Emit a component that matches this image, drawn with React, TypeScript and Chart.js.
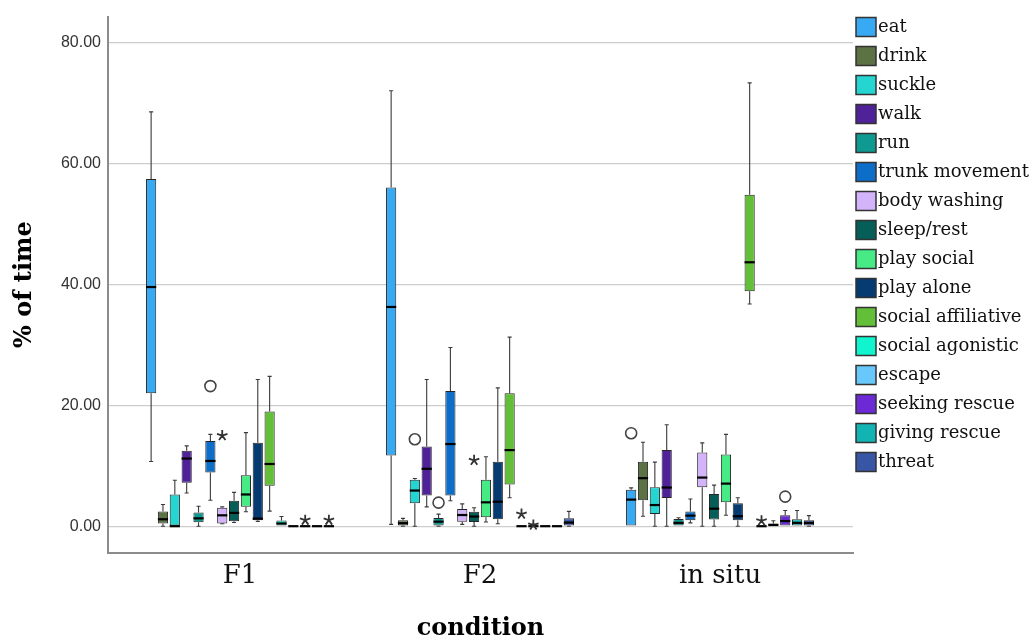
import React, { useEffect, useRef } from "react";
import { Chart, registerables } from "chart.js";

Chart.register(...registerables);

const conditions = ["F1", "F2", "in situ"];
const behaviours = [
  "eat", "drink", "suckle", "walk", "run", "trunk movement", "body washing", "sleep/rest",
  "play social", "play alone", "social affiliative", "social agonistic", "escape",
  "seeking rescue", "giving rescue", "threat",
];
const colours = [
  "#38A9F3", "#5C7245", "#25D5D2", "#4F229A", "#0E9A90", "#0C6EC8", "#D3B4FA", "#065E58",
  "#46EB86", "#053B71", "#63BF38", "#10F5CE", "#69C8FB", "#6B2AD6", "#12B3B3", "#3955A6",
];
const yTicks = [0, 20, 40, 60, 80];

// F1 (order follows behaviours)
const f1Min = [10.7, 0, 0, 5.5, 0, 4.3, 0.4, 0.6, 2.4, 0.8, 2.5, 0, 0, 0, 0, 0];
const f1Q1 = [22.0, 0.45, 0, 7.2, 0.65, 8.9, 0.44, 0.8, 3.2, 1.0, 6.7, 0, 0, 0, 0, 0];
const f1Median = [39.6, 1.15, 0, 11.2, 1.3, 10.8, 1.8, 2.2, 5.25, 1.25, 10.3, 0.45, 0, 0, 0, 0];
const f1Q3 = [57.5, 2.45, 5.25, 12.5, 2.25, 14.1, 3.05, 4.2, 8.45, 13.8, 19.0, 0.95, 0, 0, 0, 0];
const f1Max = [68.6, 3.6, 7.6, 13.3, 3.3, 15.2, 3.2, 5.6, 15.5, 24.3, 24.8, 1.6, 0, 0, 0, 0];

// F2
const f2Min = [0.3, 0, 0, 3.2, 0, 4.2, 0.3, 0, 0.7, 0.4, 4.7, 0, 0, 0, 0, 0];
const f2Q1 = [11.7, 0.1, 3.8, 5.1, 0.1, 5.1, 0.75, 0.7, 1.5, 1.15, 6.9, 0, 0, 0, 0, 0.1];
const f2Median = [36.3, 0.5, 5.9, 9.5, 0.75, 13.6, 1.85, 1.6, 3.95, 4.05, 12.6, 0, 0, 0, 0, 0.6];
const f2Q3 = [56.1, 1.0, 7.7, 13.2, 1.35, 22.4, 2.85, 2.4, 7.7, 10.65, 22.0, 0, 0, 0, 0, 1.3];
const f2Max = [72.1, 1.3, 7.9, 24.3, 2.0, 29.6, 3.7, 3.05, 11.5, 22.9, 31.3, 0, 0, 0, 0, 2.45];

// in situ
const isMin = [0, 1.65, 0, 0, 0, 0.55, 0, 0, 1.8, 0, 36.8, 0, 0, 0, 0, 0];
const isQ1 = [0, 4.3, 2.0, 4.65, 0, 1.0, 6.45, 1.1, 3.95, 1.0, 38.9, 0, 0, 0, 0, 0.1];
const isMedian = [4.4, 7.95, 3.5, 6.4, 0.55, 1.75, 8.05, 2.9, 7.05, 1.65, 43.7, 0, 0.2, 0.85, 0.55, 0.55];
const isQ3 = [6.05, 10.65, 6.45, 12.6, 1.2, 2.45, 12.2, 5.35, 11.85, 3.8, 54.9, 0, 0.45, 1.8, 1.15, 1.0];
const isMax = [6.35, 13.9, 10.6, 16.8, 1.4, 4.5, 13.8, 6.8, 15.2, 4.7, 73.4, 0, 0.9, 2.6, 2.6, 1.75];

// outliers: [condition index, behaviour index, value]
const circleOutliers = [
  [0, 5, 23.2], [1, 2, 14.4], [1, 4, 3.9], [2, 0, 15.4], [2, 13, 4.9],
];
const starOutliers = [
  [0, 6, 15.0], [0, 13, 1.0], [0, 15, 1.0], [1, 7, 10.9], [1, 11, 2.0], [1, 12, 0.2], [2, 11, 0.9],
];

const stats = [
  { min: f1Min, q1: f1Q1, med: f1Median, q3: f1Q3, max: f1Max },
  { min: f2Min, q1: f2Q1, med: f2Median, q3: f2Q3, max: f2Max },
  { min: isMin, q1: isQ1, med: isMedian, q3: isQ3, max: isMax },
];

const boxPlugin = {
  id: "boxWhiskers",
  beforeDatasetsDraw(chart: any) {
    const ctx = chart.ctx;
    const ys = chart.scales.y;
    ctx.save();
    ctx.strokeStyle = "#3a3a3a";
    ctx.lineWidth = 1.1;
    chart.data.datasets.forEach((_ds: any, b: number) => {
      const meta = chart.getDatasetMeta(b);
      meta.data.forEach((el: any, c: number) => {
        const s = stats[c];
        const { x, width } = el.getProps(["x", "width"], true);
        const cap = Math.max(2, width * 0.2);
        const draw = (from: number, to: number) => {
          const p1 = ys.getPixelForValue(from);
          const p2 = ys.getPixelForValue(to);
          ctx.beginPath();
          ctx.moveTo(x, p1);
          ctx.lineTo(x, p2);
          ctx.moveTo(x - cap, p2);
          ctx.lineTo(x + cap, p2);
          ctx.stroke();
        };
        if (s.max[b] > s.q3[b]) draw(s.q3[b], s.max[b]);
        if (s.min[b] < s.q1[b]) draw(s.q1[b], s.min[b]);
      });
    });
    ctx.restore();
  },
  afterDatasetsDraw(chart: any) {
    const ctx = chart.ctx;
    const ys = chart.scales.y;
    ctx.save();
    // medians
    ctx.strokeStyle = "#000";
    ctx.lineWidth = 2.2;
    chart.data.datasets.forEach((_ds: any, b: number) => {
      const meta = chart.getDatasetMeta(b);
      meta.data.forEach((el: any, c: number) => {
        const { x, width } = el.getProps(["x", "width"], true);
        const py = ys.getPixelForValue(stats[c].med[b]);
        ctx.beginPath();
        ctx.moveTo(x - width / 2, py);
        ctx.lineTo(x + width / 2, py);
        ctx.stroke();
      });
    });
    // mild outliers (circles)
    ctx.strokeStyle = "#444";
    ctx.lineWidth = 1.6;
    circleOutliers.forEach(([c, b, v]) => {
      const el = chart.getDatasetMeta(b).data[c];
      if (!el) return;
      const { x } = el.getProps(["x"], true);
      ctx.beginPath();
      ctx.arc(x, ys.getPixelForValue(v), 5.5, 0, Math.PI * 2);
      ctx.stroke();
    });
    // extreme outliers (stars)
    ctx.strokeStyle = "#333";
    ctx.lineWidth = 1.8;
    starOutliers.forEach(([c, b, v]) => {
      const el = chart.getDatasetMeta(b).data[c];
      if (!el) return;
      const { x } = el.getProps(["x"], true);
      const py = ys.getPixelForValue(v);
      ctx.beginPath();
      for (let k = 0; k < 5; k++) {
        const a = -Math.PI / 2 + (k * 2 * Math.PI) / 5;
        ctx.moveTo(x, py);
        ctx.lineTo(x + Math.cos(a) * 5.5, py + Math.sin(a) * 5.5);
      }
      ctx.stroke();
    });
    ctx.restore();
  },
  afterDraw(chart: any) {
    const ctx = chart.ctx;
    ctx.save();
    ctx.font = '18px "DejaVu Serif"';
    ctx.textBaseline = "alphabetic";
    ctx.textAlign = "left";
    chart.data.datasets.forEach((ds: any, i: number) => {
      const top = 17.5 + i * 29;
      ctx.fillStyle = ds.backgroundColor;
      ctx.fillRect(856, top, 20, 19);
      ctx.strokeStyle = "#333";
      ctx.lineWidth = 1.5;
      ctx.strokeRect(856, top, 20, 19);
      ctx.fillStyle = "#111";
      ctx.fillText(ds.label, 878, top + 14.5);
    });
    ctx.restore();
  },
};

export default function App() {
  const canvasRef = useRef<HTMLCanvasElement | null>(null);

  useEffect(() => {
    if (!canvasRef.current) return;
    const datasets = behaviours.map((name, b) => ({
      label: name,
      data: conditions.map((_c, c) => ({ x: c + 1, y: [stats[c].q1[b], stats[c].q3[b]] })),
      backgroundColor: colours[b],
      borderColor: "#262626",
      borderWidth: 1,
      borderSkipped: false,
      categoryPercentage: 0.79,
      barPercentage: 0.86,
    }));
    const chart = new Chart(canvasRef.current, {
      type: "bar",
      data: { datasets } as any,
      plugins: [boxPlugin],
      options: {
        animation: false,
        responsive: false,
        maintainAspectRatio: false,
        layout: { padding: { left: 0, right: 181, top: 12.7, bottom: 0 } },
        plugins: { legend: { display: false }, tooltip: { enabled: false } },
        scales: {
          x: {
            type: "linear",
            min: 0.45,
            max: 3.554,
            offset: false,
            afterBuildTicks: (s: any) => {
              s.ticks = conditions.map((_c, i) => ({ value: i + 1 }));
            },
            afterFit: (s: any) => {
              s.height = 85.3;
            },
            grid: { display: false, drawTicks: false, offset: false },
            border: { display: true, color: "#8c8c8c", width: 2 },
            ticks: {
              callback: (v: any) => conditions[Number(v) - 1] ?? "",
              font: { family: "DejaVu Serif", size: 26 },
              color: "#111",
              padding: 8,
              autoSkip: false,
              maxRotation: 0,
            },
            title: {
              display: true,
              text: "condition",
              font: { family: "DejaVu Serif", size: 24, weight: "bold" },
              color: "#000",
              padding: { top: 0, bottom: -5 },
            },
          },
          y: {
            min: -4.39,
            max: 84.38,
            afterBuildTicks: (s: any) => {
              s.ticks = yTicks.map((v) => ({ value: v }));
            },
            afterFit: (s: any) => {
              s.width = 108;
            },
            grid: { color: "#cdcdcd", lineWidth: 1.2, drawTicks: false },
            border: { display: true, color: "#8c8c8c", width: 2 },
            ticks: {
              callback: (v: any) => Number(v).toFixed(2),
              font: { family: "Liberation Sans", size: 16 },
              color: "#333",
              padding: 7,
            },
            title: {
              display: true,
              text: "% of time",
              font: { family: "DejaVu Serif", size: 24, weight: "bold" },
              color: "#000",
              padding: { top: 10, bottom: 0 },
            },
          },
        },
      } as any,
    });
    return () => chart.destroy();
  }, []);

  return (
    <div style={{ position: "absolute", left: 0, top: 0, width: 1034, height: 638, background: "#fff" }}>
      <canvas ref={canvasRef} width={1034} height={638} style={{ width: 1034, height: 638 }} />
    </div>
  );
}
